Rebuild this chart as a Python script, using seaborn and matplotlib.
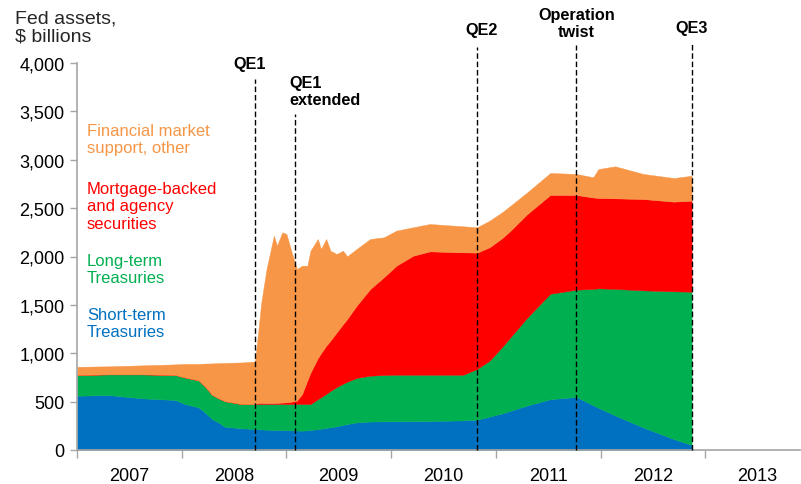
import numpy as np
import pandas as pd
import matplotlib.pyplot as plt
import seaborn as sns
from matplotlib.ticker import FuncFormatter

# Fed balance sheet composition (decimal years, $ billions)
# each array is the cumulative top of that layer
years = [2007.00, 2007.30, 2007.62, 2007.94, 2008.03, 2008.16, 2008.22, 2008.29, 2008.35, 2008.41,
         2008.57, 2008.70, 2008.73, 2008.76, 2008.81, 2008.88, 2008.91, 2008.96, 2009.00, 2009.05,
         2009.10, 2009.15, 2009.20, 2009.23, 2009.30, 2009.33, 2009.38, 2009.42, 2009.48, 2009.54,
         2009.58, 2009.67, 2009.80, 2009.93, 2010.05, 2010.21, 2010.37, 2010.69, 2010.82, 2010.94,
         2011.06, 2011.14, 2011.30, 2011.52, 2011.77, 2011.93, 2011.98, 2012.14, 2012.41, 2012.70,
         2012.87]

short_term_top = [561, 568, 534, 517, 475, 441, 390, 320, 286, 241,
                  224, 217, 215, 213, 210, 207, 206, 205, 204, 203,
                  201, 200, 203, 207, 215, 220, 228, 235, 245, 260,
                  268, 285, 294, 296, 297, 298, 300, 306, 313, 345,
                  378, 405, 460, 525, 548, 462, 436, 357, 232, 113,
                  52]

long_term_top = [775, 782, 782, 775, 750, 720, 660, 570, 535, 505,
                 475, 475, 475, 475, 475, 475, 475, 475, 475, 475,
                 475, 475, 475, 475, 525, 545, 580, 610, 650, 685,
                 705, 745, 768, 775, 778, 778, 778, 778, 837, 923,
                 1065, 1166, 1368, 1615, 1657, 1665, 1671, 1665, 1650, 1640,
                 1636]

mbs_top = [775, 782, 782, 775, 750, 720, 660, 570, 535, 505,
           475, 475, 487, 487, 485, 485, 487, 490, 492, 500,
           510, 579, 720, 800, 950, 1000, 1078, 1130, 1216, 1300,
           1354, 1491, 1664, 1785, 1905, 2008, 2053, 2043, 2040, 2095,
           2190, 2267, 2439, 2636, 2636, 2610, 2605, 2601, 2594, 2567,
           2577]

total_top = [860, 865, 875, 885, 890, 890, 893, 895, 898, 900,
             905, 915, 1216, 1526, 1871, 2215, 2112, 2250, 2233, 2043,
             1871, 1905, 1905, 2060, 2181, 2077, 2181, 2060, 2026, 2060,
             2002, 2077, 2181, 2198, 2267, 2302, 2336, 2312, 2302, 2370,
             2457, 2525, 2663, 2863, 2853, 2819, 2904, 2932, 2853, 2811,
             2835]

layer_names = ["Short-term\nTreasuries", "Long-term\nTreasuries",
               "Mortgage-backed\nand agency\nsecurities", "Financial market\nsupport, other"]
layer_colors = ["#0070C0", "#00B050", "#FF0000", "#F79646"]
label_y = [1313, 1871, 2522, 3214]

# policy events: position, label, top of the dashed line
event_x = [2008.70, 2009.08, 2010.82, 2011.77, 2012.87]
event_labels = ["QE1", "QE1\nextended", "QE2", "Operation\ntwist", "QE3"]
event_line_top = [3835, 3473, 4165, 4186, 4207]
event_label_x = [2008.65, 2009.025, 2010.86, 2011.77, 2012.87]
event_label_y = [4000, 3711, 4351, 4413, 4362]
event_ha = ["center", "left", "center", "center", "center"]

year_labels = [str(y) for y in range(2007, 2014)]

df = pd.DataFrame({"year": years, "short": short_term_top, "long": long_term_top,
                   "mbs": mbs_top, "total": total_top})

sns.set_theme(style="white")
plt.rcParams["font.family"] = ["Liberation Sans", "DejaVu Sans"]

fig = plt.figure(figsize=(8.01, 4.85), dpi=100)
ax = fig.add_axes([77 / 801, 34 / 485, 723 / 801, 387 / 485])

bottoms = [np.zeros(len(df)), df["short"], df["long"], df["mbs"]]
tops = [df["short"], df["long"], df["mbs"], df["total"]]
for lo, hi, col in zip(bottoms, tops, layer_colors):
    ax.fill_between(df["year"], lo, hi, color=col, linewidth=0.3, edgecolor=col, zorder=2)

for name, col, yy in zip(layer_names, layer_colors, label_y):
    ax.text(2007.096, yy, name, color=col, fontsize=12, ha="left", va="center",
            linespacing=1.2, zorder=4)

for x, lab, top, lx, ly, ha in zip(event_x, event_labels, event_line_top,
                                   event_label_x, event_label_y, event_ha):
    ax.plot([x, x], [0, top], color="black", lw=1, ls=(0, (4, 2)), zorder=3, clip_on=False)
    ax.text(lx, ly, lab, fontsize=11.7, fontweight="bold", ha=ha, va="center",
            linespacing=1.1, color="black", clip_on=False)

ax.set_xlim(2007, 2013.905)
ax.set_ylim(0, 4000)
ax.set_yticks(range(0, 4001, 500))
ax.yaxis.set_major_formatter(FuncFormatter(lambda v, p: f"{int(v):,}"))

ax.set_xticks(range(2007, 2014))
ax.set_xticklabels([])
ax.set_xticks([y + 0.5 for y in range(2007, 2014)], minor=True)
ax.set_xticklabels(year_labels, minor=True)

for side in ["top", "right"]:
    ax.spines[side].set_visible(False)
for side in ["left", "bottom"]:
    ax.spines[side].set_color("#A6A6A6")
    ax.spines[side].set_linewidth(1.2)

ax.tick_params(axis="y", which="major", left=True, length=5, width=1, color="#A6A6A6",
               labelsize=13, pad=4, labelcolor="black")
ax.tick_params(axis="x", which="major", bottom=True, length=6, width=1, color="#A6A6A6")
ax.tick_params(axis="x", which="minor", bottom=True, length=0, labelsize=13, pad=12,
               labelcolor="black")

fig.text(15 / 801, 1 - 28 / 485, "Fed assets,\n$ billions", fontsize=14, ha="left",
         va="center", linespacing=1.15)

ax.set_xlabel("")
ax.set_ylabel("")
fig.savefig("out.png", dpi=100)
